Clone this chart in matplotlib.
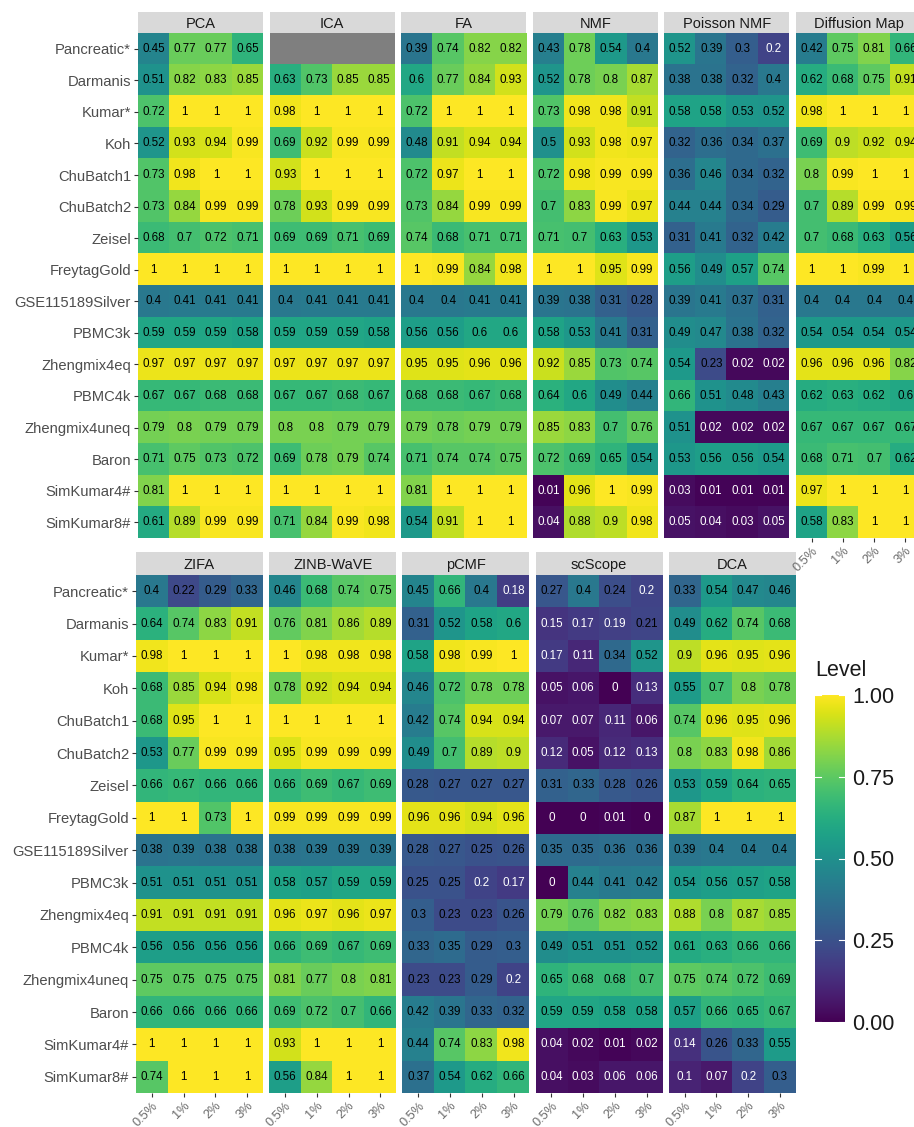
import numpy as np
import matplotlib
matplotlib.use("Agg")
import matplotlib.pyplot as plt
from matplotlib.colors import ListedColormap

plt.rcParams["font.family"] = ["Liberation Sans", "DejaVu Sans"]

DATASETS = [
    "Pancreatic*", "Darmanis", "Kumar*", "Koh", "ChuBatch1", "ChuBatch2",
    "Zeisel", "FreytagGold", "GSE115189Silver", "PBMC3k", "Zhengmix4eq",
    "PBMC4k", "Zhengmix4uneq", "Baron", "SimKumar4#", "SimKumar8#",
]
LEVELS = ["0.5%", "1%", "2%", "3%"]

PCA = [
    [0.45, 0.77, 0.77, 0.65], [0.51, 0.82, 0.83, 0.85], [0.72, 1, 1, 1],
    [0.52, 0.93, 0.94, 0.99], [0.73, 0.98, 1, 1], [0.73, 0.84, 0.99, 0.99],
    [0.68, 0.7, 0.72, 0.71], [1, 1, 1, 1], [0.4, 0.41, 0.41, 0.41],
    [0.59, 0.59, 0.59, 0.58], [0.97, 0.97, 0.97, 0.97], [0.67, 0.67, 0.68, 0.68],
    [0.79, 0.8, 0.79, 0.79], [0.71, 0.75, 0.73, 0.72], [0.81, 1, 1, 1],
    [0.61, 0.89, 0.99, 0.99],
]
ICA = [
    [np.nan, np.nan, np.nan, np.nan], [0.63, 0.73, 0.85, 0.85], [0.98, 1, 1, 1],
    [0.69, 0.92, 0.99, 0.99], [0.93, 1, 1, 1], [0.78, 0.93, 0.99, 0.99],
    [0.69, 0.69, 0.71, 0.69], [1, 1, 1, 1], [0.4, 0.41, 0.41, 0.41],
    [0.59, 0.59, 0.59, 0.58], [0.97, 0.97, 0.97, 0.97], [0.67, 0.67, 0.68, 0.67],
    [0.8, 0.8, 0.79, 0.79], [0.69, 0.78, 0.79, 0.74], [1, 1, 1, 1],
    [0.71, 0.84, 0.99, 0.98],
]
FA = [
    [0.39, 0.74, 0.82, 0.82], [0.6, 0.77, 0.84, 0.93], [0.72, 1, 1, 1],
    [0.48, 0.91, 0.94, 0.94], [0.72, 0.97, 1, 1], [0.73, 0.84, 0.99, 0.99],
    [0.74, 0.68, 0.71, 0.71], [1, 0.99, 0.84, 0.98], [0.4, 0.4, 0.41, 0.41],
    [0.56, 0.56, 0.6, 0.6], [0.95, 0.95, 0.96, 0.96], [0.68, 0.68, 0.67, 0.68],
    [0.79, 0.78, 0.79, 0.79], [0.71, 0.74, 0.74, 0.75], [0.81, 1, 1, 1],
    [0.54, 0.91, 1, 1],
]
NMF = [
    [0.43, 0.78, 0.54, 0.4], [0.52, 0.78, 0.8, 0.87], [0.73, 0.98, 0.98, 0.91],
    [0.5, 0.93, 0.98, 0.97], [0.72, 0.98, 0.99, 0.99], [0.7, 0.83, 0.99, 0.97],
    [0.71, 0.7, 0.63, 0.53], [1, 1, 0.95, 0.99], [0.39, 0.38, 0.31, 0.28],
    [0.58, 0.53, 0.41, 0.31], [0.92, 0.85, 0.73, 0.74], [0.64, 0.6, 0.49, 0.44],
    [0.85, 0.83, 0.7, 0.76], [0.72, 0.69, 0.65, 0.54], [0.01, 0.96, 1, 0.99],
    [0.04, 0.88, 0.9, 0.98],
]
POISSON_NMF = [
    [0.52, 0.39, 0.3, 0.2], [0.38, 0.38, 0.32, 0.4], [0.58, 0.58, 0.53, 0.52],
    [0.32, 0.36, 0.34, 0.37], [0.36, 0.46, 0.34, 0.32], [0.44, 0.44, 0.34, 0.29],
    [0.31, 0.41, 0.32, 0.42], [0.56, 0.49, 0.57, 0.74], [0.39, 0.41, 0.37, 0.31],
    [0.49, 0.47, 0.38, 0.32], [0.54, 0.23, 0.02, 0.02], [0.66, 0.51, 0.48, 0.43],
    [0.51, 0.02, 0.02, 0.02], [0.53, 0.56, 0.56, 0.54], [0.03, 0.01, 0.01, 0.01],
    [0.05, 0.04, 0.03, 0.05],
]
DIFFUSION_MAP = [
    [0.42, 0.75, 0.81, 0.66], [0.62, 0.68, 0.75, 0.91], [0.98, 1, 1, 1],
    [0.69, 0.9, 0.92, 0.94], [0.8, 0.99, 1, 1], [0.7, 0.89, 0.99, 0.99],
    [0.7, 0.68, 0.63, 0.56], [1, 1, 0.99, 1], [0.4, 0.4, 0.4, 0.4],
    [0.54, 0.54, 0.54, 0.54], [0.96, 0.96, 0.96, 0.82], [0.62, 0.63, 0.62, 0.6],
    [0.67, 0.67, 0.67, 0.67], [0.68, 0.71, 0.7, 0.62], [0.97, 1, 1, 1],
    [0.58, 0.83, 1, 1],
]
ZIFA = [
    [0.4, 0.22, 0.29, 0.33], [0.64, 0.74, 0.83, 0.91], [0.98, 1, 1, 1],
    [0.68, 0.85, 0.94, 0.98], [0.68, 0.95, 1, 1], [0.53, 0.77, 0.99, 0.99],
    [0.66, 0.67, 0.66, 0.66], [1, 1, 0.73, 1], [0.38, 0.39, 0.38, 0.38],
    [0.51, 0.51, 0.51, 0.51], [0.91, 0.91, 0.91, 0.91], [0.56, 0.56, 0.56, 0.56],
    [0.75, 0.75, 0.75, 0.75], [0.66, 0.66, 0.66, 0.66], [1, 1, 1, 1],
    [0.74, 1, 1, 1],
]
ZINB_WAVE = [
    [0.46, 0.68, 0.74, 0.75], [0.76, 0.81, 0.86, 0.89], [1, 0.98, 0.98, 0.98],
    [0.78, 0.92, 0.94, 0.94], [1, 1, 1, 1], [0.95, 0.99, 0.99, 0.99],
    [0.66, 0.69, 0.67, 0.69], [0.99, 0.99, 0.99, 0.99], [0.38, 0.39, 0.39, 0.39],
    [0.58, 0.57, 0.59, 0.59], [0.96, 0.97, 0.96, 0.97], [0.66, 0.69, 0.67, 0.69],
    [0.81, 0.77, 0.8, 0.81], [0.69, 0.72, 0.7, 0.66], [0.93, 1, 1, 1],
    [0.56, 0.84, 1, 1],
]
PCMF = [
    [0.45, 0.66, 0.4, 0.18], [0.31, 0.52, 0.58, 0.6], [0.58, 0.98, 0.99, 1],
    [0.46, 0.72, 0.78, 0.78], [0.42, 0.74, 0.94, 0.94], [0.49, 0.7, 0.89, 0.9],
    [0.28, 0.27, 0.27, 0.27], [0.96, 0.96, 0.94, 0.96], [0.28, 0.27, 0.25, 0.26],
    [0.25, 0.25, 0.2, 0.17], [0.3, 0.23, 0.23, 0.26], [0.33, 0.35, 0.29, 0.3],
    [0.23, 0.23, 0.29, 0.2], [0.42, 0.39, 0.33, 0.32], [0.44, 0.74, 0.83, 0.98],
    [0.37, 0.54, 0.62, 0.66],
]
SCSCOPE = [
    [0.27, 0.4, 0.24, 0.2], [0.15, 0.17, 0.19, 0.21], [0.17, 0.11, 0.34, 0.52],
    [0.05, 0.06, 0, 0.13], [0.07, 0.07, 0.11, 0.06], [0.12, 0.05, 0.12, 0.13],
    [0.31, 0.33, 0.28, 0.26], [0, 0, 0.01, 0], [0.35, 0.35, 0.36, 0.36],
    [0, 0.44, 0.41, 0.42], [0.79, 0.76, 0.82, 0.83], [0.49, 0.51, 0.51, 0.52],
    [0.65, 0.68, 0.68, 0.7], [0.59, 0.59, 0.58, 0.58], [0.04, 0.02, 0.01, 0.02],
    [0.04, 0.03, 0.06, 0.06],
]
DCA = [
    [0.33, 0.54, 0.47, 0.46], [0.49, 0.62, 0.74, 0.68], [0.9, 0.96, 0.95, 0.96],
    [0.55, 0.7, 0.8, 0.78], [0.74, 0.96, 0.95, 0.96], [0.8, 0.83, 0.98, 0.86],
    [0.53, 0.59, 0.64, 0.65], [0.87, 1, 1, 1], [0.39, 0.4, 0.4, 0.4],
    [0.54, 0.56, 0.57, 0.58], [0.88, 0.8, 0.87, 0.85], [0.61, 0.63, 0.66, 0.66],
    [0.75, 0.74, 0.72, 0.69], [0.57, 0.66, 0.65, 0.67], [0.14, 0.26, 0.33, 0.55],
    [0.1, 0.07, 0.2, 0.3],
]

TOP_ROW = [("PCA", PCA), ("ICA", ICA), ("FA", FA), ("NMF", NMF),
           ("Poisson NMF", POISSON_NMF), ("Diffusion Map", DIFFUSION_MAP)]
BOTTOM_ROW = [("ZIFA", ZIFA), ("ZINB-WaVE", ZINB_WAVE), ("pCMF", PCMF),
              ("scScope", SCSCOPE), ("DCA", DCA)]

W, H = 914, 1127
GREY_TEXT = "#4D4D4D"

cmap = ListedColormap(plt.get_cmap("viridis")(np.linspace(0, 1, 256)))
cmap.set_bad("#7F7F7F")

fig = plt.figure(figsize=(W / 100, H / 100), dpi=100)


def px_axes(left, top, width, height):
    return fig.add_axes([left / W, 1 - (top + height) / H, width / W, height / H])


def draw_panel(name, values, left, top, width, height, strip_h,
               show_y, show_x):
    data = np.array(values, dtype=float)
    ax = px_axes(left, top, width, height)
    ax.imshow(np.ma.masked_invalid(data), cmap=cmap, vmin=0, vmax=1,
              aspect="auto", interpolation="nearest")
    for i in range(data.shape[0]):
        for j in range(data.shape[1]):
            v = data[i, j]
            if np.isnan(v):
                continue
            label = format(round(v, 2), "g")
            color = "white" if v <= 0.2 else "black"
            ax.text(j, i, label, ha="center", va="center", fontsize=8.4,
                    color=color)
    for s in ax.spines.values():
        s.set_visible(False)
    if show_y:
        ax.set_yticks(range(len(DATASETS)))
        ax.set_yticklabels(DATASETS, fontsize=10.6, color=GREY_TEXT)
        ax.tick_params(axis="y", length=3, width=0.8, color="#333333", pad=2)
    else:
        ax.set_yticks([])
    if show_x:
        ax.set_xticks(range(len(LEVELS)))
        ax.set_xticklabels(LEVELS, fontsize=9.2, color="#6B6B6B", rotation=45,
                           ha="right", va="top", rotation_mode="anchor")
        ax.tick_params(axis="x", length=3, width=0.8, color="#333333", pad=2)
    else:
        ax.set_xticks([])

    strip = px_axes(left, top - strip_h, width, strip_h)
    strip.set_facecolor("#D9D9D9")
    strip.set_xticks([])
    strip.set_yticks([])
    for s in strip.spines.values():
        s.set_visible(False)
    strip.text(0.5, 0.45, name, ha="center", va="center", fontsize=10.5,
               color="#1A1A1A", transform=strip.transAxes)


# bottom row of facets (drawn first so the top row's axis labels sit above it)
for k, (name, values) in enumerate(BOTTOM_ROW):
    draw_panel(name, values, 136 + k * 133.2, 575, 127, 518, 23,
               show_y=(k == 0), show_x=True)

# top row of facets
for k, (name, values) in enumerate(TOP_ROW):
    draw_panel(name, values, 138 + k * 131.6, 33, 125, 505, 21,
               show_y=(k == 0), show_x=(name == "Diffusion Map"))

# colour bar legend
cax = px_axes(815, 695, 30, 327)
grad = np.linspace(0, 1, 256).reshape(-1, 1)
cax.imshow(grad, cmap=cmap, vmin=0, vmax=1, aspect="auto", origin="lower",
           extent=[0, 1, 0, 1])
cax.set_xlim(0, 1)
cax.set_ylim(0, 1)
cax.set_xticks([])
ticks = [0, 0.25, 0.5, 0.75, 1.0]
cax.yaxis.tick_right()
cax.set_yticks(ticks)
cax.set_yticklabels([f"{t:.2f}" for t in ticks], fontsize=15.5, color="#1A1A1A")
cax.tick_params(axis="y", length=0, pad=5)
for t in ticks:
    cax.plot([0, 0.2], [t, t], color="white", lw=0.8)
    cax.plot([0.8, 1], [t, t], color="white", lw=0.8)
for s in cax.spines.values():
    s.set_visible(False)
fig.text(815 / W, 1 - 671 / H, "Level", fontsize=15.5, color="#1A1A1A",
         ha="left", va="center")

fig.savefig("out.png", dpi=100)
